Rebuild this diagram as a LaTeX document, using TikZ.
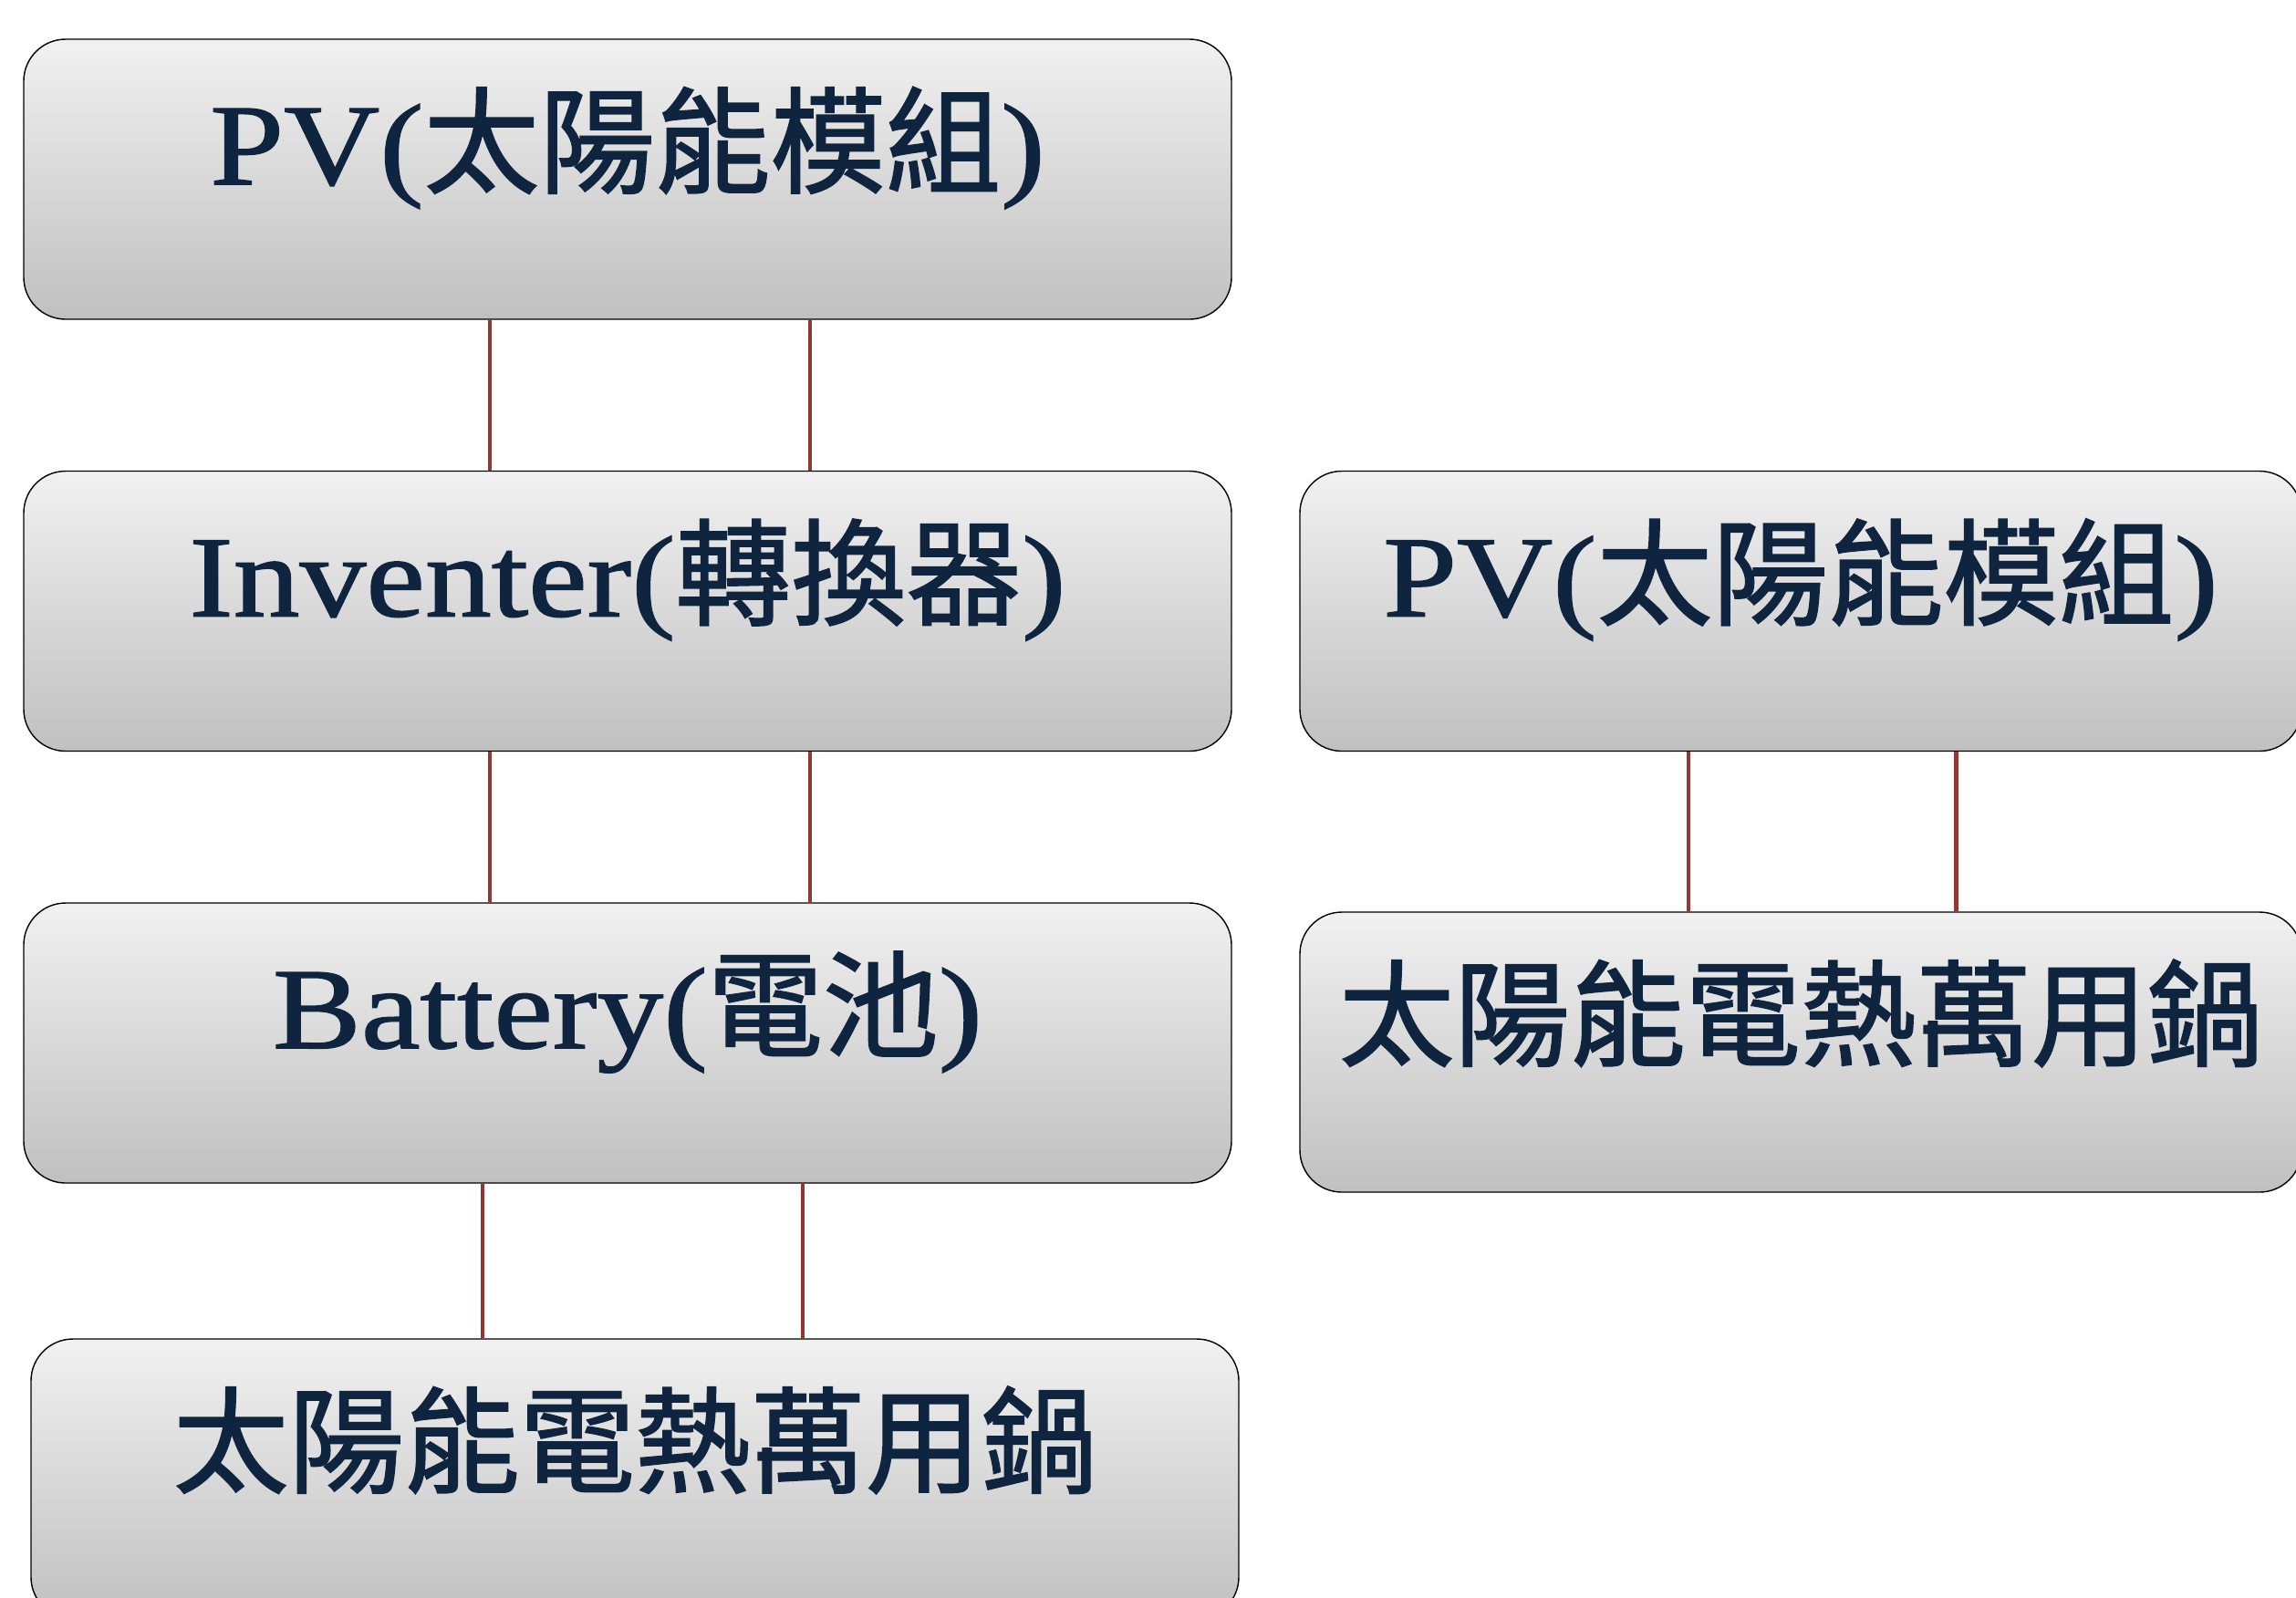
\documentclass[tikz,border=0pt]{standalone}
\usepackage{fontspec}
\setmainfont[FakeStretch=1.15, FakeBold=1.2]{Liberation Serif}
\newfontfamily\cjk[FakeBold=1.5]{Noto Sans CJK TC}
\definecolor{boxtop}{RGB}{241,241,241}
\definecolor{boxbot}{RGB}{192,192,192}
\definecolor{inktext}{HTML}{0F243E}
\definecolor{wirered}{HTML}{943634}
\tikzset{
  block/.style={rectangle, rounded corners=0.46cm, draw=black, line width=0.4pt,
    top color=boxtop, bottom color=boxbot, minimum width=13.24cm, minimum height=3.07cm,
    inner xsep=0pt, inner ysep=0pt, text height=1.59cm, text depth=1.48cm,
    text=inktext, font=\fontsize{36}{40}\selectfont},
  narrow/.style={block, minimum width=10.98cm},
  wire/.style={draw=wirered, line width=1.3pt}
}
\begin{document}
\begin{tikzpicture}
                    \path[use as bounding box, clip] (0,0) rectangle (25.17,-17.51);

                    \node (pv) [block] at (6.88, -1.965) {PV({\cjk 太陽能模組})};
                    \node (inv) [block] at (6.88, -6.70) {Inventer({\cjk 轉換器})};
                    \node (bat) [block] at (6.88, -11.435) {Battery({\cjk 電池})};
                    \node (pot) [block] at (6.96, -16.215) {\cjk 太陽能電熱萬用鍋};
                    \node (pv2) [narrow] at (19.74, -6.70) {PV({\cjk 太陽能模組})};
                    \node (pot2) [narrow] at (19.74, -11.535) {\cjk 太陽能電熱萬用鍋};

                    \draw[wire] ([xshift=-1.51cm]pv.south) -- ([xshift=-1.51cm]inv.north);
                    \draw[wire] ([xshift=2cm]pv.south) -- ([xshift=2cm]inv.north);
                    \draw[wire] ([xshift=-1.51cm]inv.south) -- ([xshift=-1.51cm]bat.north);
                    \draw[wire] ([xshift=2cm]inv.south) -- ([xshift=2cm]bat.north);
                    \draw[wire] ([xshift=-1.59cm]bat.south) -- ([xshift=-1.59cm]bat.south |- pot.north);
                    \draw[wire] ([xshift=1.92cm]bat.south) -- ([xshift=1.92cm]bat.south |- pot.north);
                    \draw[wire] ([xshift=-1.23cm]pv2.south) -- ([xshift=-1.23cm]pot2.north);
                    \draw[wire] ([xshift=1.705cm]pv2.south) -- ([xshift=1.705cm]pot2.north);
                \end{tikzpicture}
\end{document}
